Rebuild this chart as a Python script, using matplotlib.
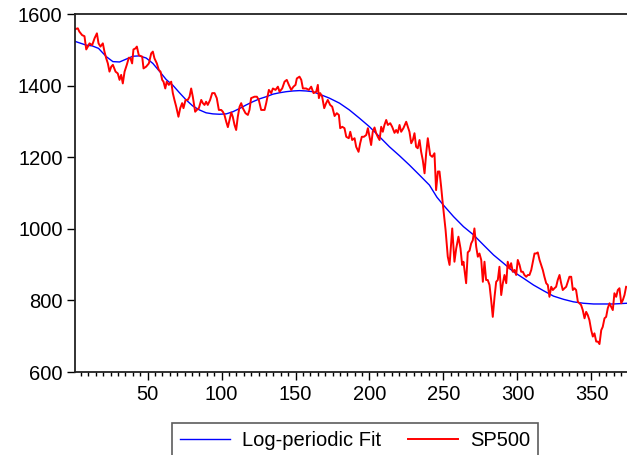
import matplotlib
matplotlib.use('Agg')
import matplotlib.pyplot as plt
from matplotlib.ticker import MultipleLocator

plt.rcParams['font.family'] = ['Liberation Sans', 'DejaVu Sans']

# SP500 trace (index, price)
sp_x = [1.4, 2.9, 3.9, 5.8, 7.4, 8.6, 9.7, 10.8, 12.6, 14.2, 15.8, 16.9, 18.2, 19.8,
        20.9, 22.1, 23.2, 24.3, 25.5, 26.6, 28.4, 29.9, 31.1, 32.2, 33.3, 34.5, 36.0,
        37.4, 38.5, 39.6, 40.5, 41.9, 42.8, 44.1, 45.1, 46.4, 47.3, 49.1, 50.9, 52.5,
        53.6, 54.7, 56.3, 57.6, 58.8, 59.9, 60.8, 62.0, 63.0, 64.4, 66.0, 67.1, 68.2,
        69.4, 70.9, 72.1, 73.4, 74.3, 75.7, 77.2, 78.4, 79.5, 80.6, 82.2, 83.3, 84.7,
        86.3, 87.4, 88.5, 89.6, 90.7, 92.3, 93.7, 95.3, 96.8, 98.2, 99.8, 100.9, 102.0,
        103.2, 104.3, 105.4, 106.6, 107.6, 108.8, 109.9, 111.0, 112.2, 113.3, 114.4,
        116.2, 117.8, 118.9, 120.0, 122.3, 123.9, 125.2, 126.8, 129.1, 130.2, 132.0,
        133.6, 134.7, 136.5, 138.1, 139.2, 141.0, 142.6, 144.1, 145.5, 147.1, 148.6,
        150.0, 150.9, 152.7, 153.9, 155.0, 157.2, 159.0, 160.6, 162.2, 164.0, 165.1,
        165.8, 166.7, 168.0, 169.4, 170.7, 171.8, 173.4, 174.8, 176.4, 177.9, 179.3,
        180.2, 181.6, 183.1, 184.3, 186.0, 187.0, 188.3, 189.9, 191.0, 192.6, 193.7,
        194.8, 196.2, 197.8, 198.9, 200.0, 201.1, 202.2, 203.4, 204.5, 205.6, 206.8,
        207.9, 209.0, 210.1, 211.3, 212.4, 214.0, 215.3, 216.9, 218.0, 219.1, 220.3,
        221.4, 222.9, 224.8, 225.9, 227.0, 228.2, 229.3, 230.4, 231.5, 232.6, 233.8,
        234.9, 236.0, 237.2, 238.3, 239.4, 241.0, 242.4, 243.9, 245.0, 246.2, 247.3,
        248.4, 249.5, 251.4, 252.9, 254.1, 255.9, 257.4, 258.6, 260.1, 261.5, 262.6,
        263.5, 265.3, 266.4, 267.6, 268.7, 269.8, 270.9, 272.1, 273.2, 274.3, 275.5,
        276.6, 277.7, 278.8, 279.9, 281.1, 282.2, 283.3, 284.5, 285.6, 286.7, 287.8,
        289.0, 290.1, 291.2, 292.4, 293.4, 294.6, 295.7, 296.8, 298.0, 299.1, 300.2,
        301.4, 302.5, 303.6, 304.7, 305.9, 307.0, 308.1, 309.3, 310.4, 311.5, 312.6,
        313.7, 314.9, 316.0, 317.1, 318.2, 319.4, 320.5, 321.6, 322.8, 323.9, 325.0,
        326.1, 327.2, 328.4, 329.5, 330.6, 331.8, 332.9, 334.0, 335.1, 336.3, 337.4,
        338.5, 339.6, 340.8, 341.9, 343.0, 344.1, 345.3, 346.4, 347.5, 348.6, 349.8,
        350.9, 352.0, 353.2, 354.3, 355.4, 356.6, 357.6, 358.8, 359.9, 361.0, 362.2,
        363.3, 364.4, 365.5, 366.7, 367.8, 368.9, 370.1, 371.2, 372.3, 373.4]
sp_y = [1558, 1560, 1551, 1541, 1538, 1501, 1509, 1518, 1513, 1532, 1546, 1518, 1509, 1518,
        1495, 1476, 1462, 1439, 1453, 1458, 1439, 1434, 1416, 1430, 1406, 1439, 1458,
        1478, 1476, 1462, 1501, 1504, 1509, 1485, 1483, 1481, 1448, 1453, 1462, 1490,
        1495, 1476, 1462, 1444, 1439, 1416, 1411, 1392, 1411, 1402, 1411, 1379, 1360,
        1341, 1313, 1337, 1351, 1337, 1360, 1360, 1369, 1392, 1369, 1327, 1332, 1337,
        1360, 1351, 1346, 1355, 1346, 1360, 1379, 1379, 1365, 1332, 1332, 1327, 1318,
        1299, 1284, 1304, 1325, 1313, 1290, 1276, 1313, 1341, 1351, 1337,
        1323, 1318, 1332, 1365, 1369, 1369, 1360, 1332, 1332, 1351, 1388,
        1379, 1392, 1388, 1397, 1383, 1392, 1411, 1416, 1402, 1388, 1397,
        1402, 1420, 1425, 1416, 1392, 1392, 1388, 1397, 1379, 1383, 1402,
        1365, 1379, 1369, 1337, 1351, 1360, 1346, 1341, 1315, 1323, 1318,
        1281, 1285, 1281, 1257, 1253, 1271, 1248, 1253, 1229, 1215, 1239,
        1257, 1257, 1262, 1281, 1257, 1234, 1271, 1283, 1267, 1257, 1248,
        1285, 1271, 1290, 1304, 1290, 1295, 1285, 1268, 1276, 1268, 1290,
        1271, 1281, 1299, 1285, 1271, 1239, 1248, 1267, 1229, 1225, 1248,
        1215, 1192, 1155, 1211, 1253, 1206, 1201, 1211, 1108, 1160, 1160,
        1118, 1071, 997, 922, 899, 1001, 908, 945, 978, 945, 899,
        908, 848, 934, 939, 959, 968, 1001, 950, 922, 931, 913,
        852, 908, 857, 857, 843, 801, 754, 810, 852, 857, 894,
        815, 848, 871, 848, 908, 889, 904, 880, 885, 871, 913,
        899, 880, 880, 871, 866, 871, 871, 885, 908, 931, 931,
        934, 913, 899, 885, 866, 848, 843, 810, 838, 829, 834,
        838, 857, 871, 848, 829, 834, 838, 852, 866, 866, 829,
        834, 829, 796, 792, 787, 773, 750, 768, 759, 745, 717,
        699, 708, 685, 685, 678, 717, 726, 750, 754, 778, 792,
        782, 773, 820, 810, 829, 834, 792, 801, 815, 838]

# Log-periodic fit
fit_x = [1.4, 8.6, 12.6, 16.9, 22.1, 26.6, 31.1, 35.6, 40.1, 44.6, 49.1, 53.6, 58.1,
         62.6, 67.1, 71.6, 76.1, 80.6, 85.1, 89.6, 94.2, 98.6, 103.2, 107.7, 112.2,
         116.7, 121.2, 125.7, 130.2, 134.7, 139.2, 143.7, 148.2, 152.7, 157.2, 161.7,
         166.2, 172.9, 179.7, 186.4, 193.2, 200.0, 206.8, 213.5, 220.3, 227.0, 233.8,
         240.5, 245.6, 250.0, 256.8, 263.5, 270.3, 277.0, 283.8, 290.5, 297.3, 304.0,
         310.8, 317.6, 324.3, 331.1, 337.8, 344.6, 351.4, 358.1, 364.9, 373.9]
fit_y = [1523, 1513, 1511, 1504, 1481, 1467, 1466, 1474, 1482, 1483, 1477, 1462, 1440,
         1417, 1401, 1380, 1360, 1343, 1332, 1324, 1321, 1320, 1321, 1327, 1336,
         1346, 1355, 1363, 1369, 1376, 1380, 1383, 1385, 1386, 1385, 1383,
         1376, 1365, 1351, 1332, 1309, 1285, 1257, 1229, 1204, 1178, 1150,
         1122, 1088, 1066, 1034, 1006, 983, 955, 927, 904, 880, 862,
         843, 827, 812, 803, 796, 792, 790, 790, 790, 792]

fig = plt.figure(figsize=(6.27, 4.55), dpi=100)
ax = fig.add_axes([75/627, 1-372/455, 1-75/627, (372-14)/455])

l1, = ax.plot(fit_x, fit_y, color='#0000ff', lw=1.0, label='Log-periodic Fit')
l2, = ax.plot(sp_x, sp_y, color='#ff0000', lw=1.4, label='SP500')

ax.set_xlim(1, 374)
ax.set_ylim(600, 1600)
ax.set_yticks([600, 800, 1000, 1200, 1400, 1600])
ax.set_xticks([50, 100, 150, 200, 250, 300, 350])
ax.xaxis.set_minor_locator(MultipleLocator(5))
ax.tick_params(axis='both', which='major', direction='out', length=6, width=1,
               labelsize=14.5, color='black')
ax.tick_params(axis='x', which='minor', direction='out', length=3, width=1)
ax.tick_params(axis='y', pad=3)
ax.tick_params(axis='x', pad=3)
ax.spines['right'].set_visible(False)
for s in ['top', 'left', 'bottom']:
    ax.spines[s].set_linewidth(1.3)
    ax.spines[s].set_color('#222222')

leg = fig.legend(handles=[l1, l2], loc='upper center', bbox_to_anchor=(355/627, 1-423/455),
                 ncol=2, frameon=True, fancybox=False, fontsize=14.5, handlelength=2.5,
                 columnspacing=1.3, borderpad=0.4, handletextpad=0.6, borderaxespad=0)
leg.get_frame().set_edgecolor('#333333')
leg.get_frame().set_linewidth(1.2)

fig.savefig('out.png', dpi=100)
